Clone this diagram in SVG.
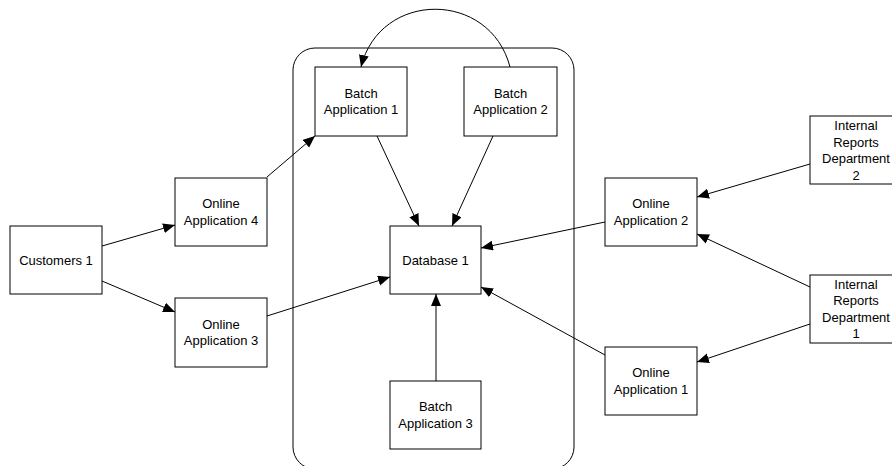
<svg xmlns="http://www.w3.org/2000/svg" width="892" height="466" viewBox="0 0 892 466">
<style>
.box{fill:#fff;stroke:#000;stroke-width:1}
.lbl{font-family:"Liberation Sans",Arial,sans-serif;font-size:13px;fill:#000;text-anchor:middle;dominant-baseline:central}
.con{fill:none;stroke:#000;stroke-width:1;marker-end:url(#arr)}
</style>
<defs>
<marker id="arr" markerUnits="userSpaceOnUse" markerWidth="13" markerHeight="11" refX="12" refY="5" orient="auto">
<path d="M0,0 L12,5 L0,10 z" fill="#000"/>
</marker>
</defs>
<rect width="892" height="466" fill="#fff"/>
<g id="container"><rect x="293" y="48" width="281" height="421" rx="22" ry="22" fill="none" stroke="#000"/></g>
<g id="customers1"><rect class="box" x="10" y="226" width="92" height="68"/><text class="lbl" x="56" y="260">Customers 1</text></g>
<g id="online4"><rect class="box" x="175" y="178" width="92" height="68"/><text class="lbl" x="221" y="203.5">Online</text><text class="lbl" x="221" y="220">Application 4</text></g>
<g id="online3"><rect class="box" x="175" y="298" width="92" height="69"/><text class="lbl" x="221" y="324">Online</text><text class="lbl" x="221" y="340.5">Application 3</text></g>
<g id="batch1"><rect class="box" x="315" y="67" width="92" height="69"/><text class="lbl" x="361" y="93">Batch</text><text class="lbl" x="361" y="109.5">Application 1</text></g>
<g id="batch2"><rect class="box" x="464" y="67" width="93" height="69"/><text class="lbl" x="510.5" y="93">Batch</text><text class="lbl" x="510.5" y="109.5">Application 2</text></g>
<g id="database1"><rect class="box" x="390" y="226" width="91" height="68"/><text class="lbl" x="435.5" y="260">Database 1</text></g>
<g id="batch3"><rect class="box" x="390" y="381" width="91" height="68"/><text class="lbl" x="435.5" y="406.5">Batch</text><text class="lbl" x="435.5" y="423">Application 3</text></g>
<g id="online2"><rect class="box" x="605" y="178" width="92" height="68"/><text class="lbl" x="651" y="203.5">Online</text><text class="lbl" x="651" y="220">Application 2</text></g>
<g id="online1"><rect class="box" x="605" y="347" width="92" height="68"/><text class="lbl" x="651" y="372.5">Online</text><text class="lbl" x="651" y="389">Application 1</text></g>
<g id="reports2"><rect class="box" x="810" y="116" width="92" height="68"/><text class="lbl" x="856" y="125.5">Internal</text><text class="lbl" x="856" y="142">Reports</text><text class="lbl" x="856" y="158.5">Department</text><text class="lbl" x="856" y="175">2</text></g>
<g id="reports1"><rect class="box" x="810" y="275" width="92" height="68"/><text class="lbl" x="856" y="284">Internal</text><text class="lbl" x="856" y="300.5">Reports</text><text class="lbl" x="856" y="317">Department</text><text class="lbl" x="856" y="333.5">1</text></g>
<g id="connectors">
<path class="con" d="M102,246 L175,225"/>
<path class="con" d="M102,281 L175,312"/>
<path class="con" d="M267,177 L315,136"/>
<path class="con" d="M267,316 L390,277"/>
<path class="con" d="M510,67 C490,-10 380,-10 361,67"/>
<path class="con" d="M377,136 L419,226"/>
<path class="con" d="M493,136 L452,226"/>
<path class="con" d="M436,381 L436,294"/>
<path class="con" d="M605,222 L481,248"/>
<path class="con" d="M605,355 L481,287"/>
<path class="con" d="M810,164 L697,197"/>
<path class="con" d="M810,287 L697,234"/>
<path class="con" d="M810,324 L697,362"/>
</g>
</svg>
